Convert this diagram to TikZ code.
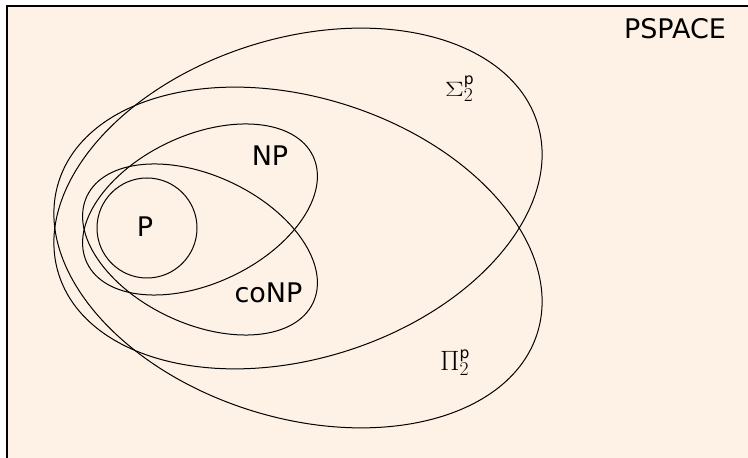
\RequirePackage{fix-cm}
\documentclass[tikz,border=0pt]{standalone}
\usepackage[no-math]{fontspec}
\setmainfont{DejaVu Sans}
\newfontfamily\djv{DejaVu Sans}
\usetikzlibrary{shapes.geometric}
\definecolor{bgbeige}{HTML}{FEF1E5}
\tikzset{
  setshape/.style={draw=black, line width=1pt, ellipse, inner sep=0pt, outer sep=0pt},
  lbl/.style={inner sep=0pt, font=\fontsize{27}{30}\selectfont},
  mlbl/.style={inner sep=0pt, anchor=base west, font=\fontsize{28}{32}\selectfont}
}
\newcommand{\psup}{\hbox{\djv\fontsize{15.5}{16}\selectfont p}}
\begin{document}
\begin{tikzpicture}[x=1pt,y=1pt]
\useasboundingbox (0,0) rectangle (748,458);
\fill[bgbeige] (7,-5) rectangle (760,452);
\draw[line width=1.3pt] (7,-5) -- (7,452) -- (760,452);
\node[setshape, minimum width=502pt, minimum height=320pt, rotate=17.6] (sigma) at (298,259.5) {};
\node[setshape, minimum width=502pt, minimum height=320pt, rotate=-17.6] (pi) at (298,200.5) {};
\node[setshape, minimum width=250pt, minimum height=148pt, rotate=25.2] (np) at (200,248.5) {};
\node[setshape, minimum width=250pt, minimum height=148pt, rotate=-25.2] (conp) at (200,208.5) {};
\node[setshape, circle, minimum size=100pt] (p) at (147,230) {};
\node[lbl] (pspace) at (675,429.5) {PSPACE};
\node[lbl] (nplbl) at (270,302) {NP};
\node[lbl] (conplbl) at (268.5,165) {coNP};
\node[lbl] (plbl) at (145,231) {P};
\node[mlbl] (sigmalbl) at (445,361) {$\scalebox{1}[0.74]{$\Sigma$}_2^{\psup}$};
\node[mlbl] (pilbl) at (440,87) {$\Pi_2^{\psup}$};
\end{tikzpicture}
\end{document}
